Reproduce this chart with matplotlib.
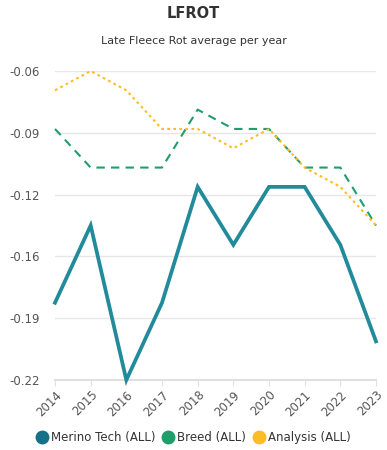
import numpy as np
import matplotlib.pyplot as plt
from matplotlib.lines import Line2D

years = [2014, 2015, 2016, 2017, 2018, 2019, 2020, 2021, 2022, 2023]
merino = [-0.18, -0.14, -0.22, -0.18, -0.12, -0.15, -0.12, -0.12, -0.15, -0.20]
breed = [-0.09, -0.11, -0.11, -0.11, -0.08, -0.09, -0.09, -0.11, -0.11, -0.14]
analysis = [-0.07, -0.06, -0.07, -0.09, -0.09, -0.10, -0.09, -0.11, -0.12, -0.14]

c_merino = "#228b9b"
c_merino_leg = "#15708a"
c_breed = "#1f9e6c"
c_analysis = "#fbbd24"

fig = plt.figure(figsize=(3.87, 4.5), dpi=100)
ax = fig.add_axes([55/387, 1-380/450, (376-55)/387, (380-71)/450])

ax.plot(years, merino, color=c_merino, linewidth=2.7, clip_on=False, zorder=4,
        solid_joinstyle="miter")
ax.plot(years, breed, color=c_breed, linewidth=1.5, linestyle=(0, (4, 3)), clip_on=False, zorder=3)
ax.plot(years, analysis, color=c_analysis, linewidth=1.5, linestyle=(0, (1.3, 1.6)), clip_on=False, zorder=3)

ax.set_xlim(2014, 2023)
ax.set_ylim(-0.22, -0.06)
yt = np.linspace(-0.06, -0.22, 6)
ax.set_yticks(yt)
ax.set_yticklabels([f"{v:.2f}" for v in yt])
ax.set_xticks(years)
ax.set_xticklabels([str(y) for y in years], rotation=45, ha="right", rotation_mode="anchor")
ax.grid(axis="y", color="#e6e6e6", linewidth=1)
ax.set_axisbelow(True)
for s in ["left", "right", "top"]:
    ax.spines[s].set_visible(False)
ax.spines["bottom"].set_color("#e0e0e0")
ax.spines["bottom"].set_linewidth(1.5)
ax.tick_params(axis="y", length=0, labelsize=8.5, labelcolor="#555555", pad=11)
ax.tick_params(axis="x", length=4, color="#e0e0e0", labelsize=8.5, labelcolor="#555555", pad=2)

fig.text(0.5, 1-14/450, "LFROT", ha="center", va="center", fontsize=10.5,
         fontweight="bold", color="#333333")
fig.text(0.5, 1-41/450, "Late Fleece Rot average per year", ha="center", va="center",
         fontsize=8, color="#333333")

handles = [
    Line2D([], [], marker="o", linestyle="", markersize=9, color=c_merino_leg),
    Line2D([], [], marker="o", linestyle="", markersize=9, color=c_breed),
    Line2D([], [], marker="o", linestyle="", markersize=9, color=c_analysis),
]
fig.legend(handles, ["Merino Tech (ALL)", "Breed (ALL)", "Analysis (ALL)"],
           loc="center", bbox_to_anchor=(0.5, 1-438/450), ncol=3, frameon=False,
           fontsize=8.5, labelcolor="#333333", handletextpad=0.25, columnspacing=0.6,
           handlelength=1.0)

fig.savefig("out.png", dpi=100)
